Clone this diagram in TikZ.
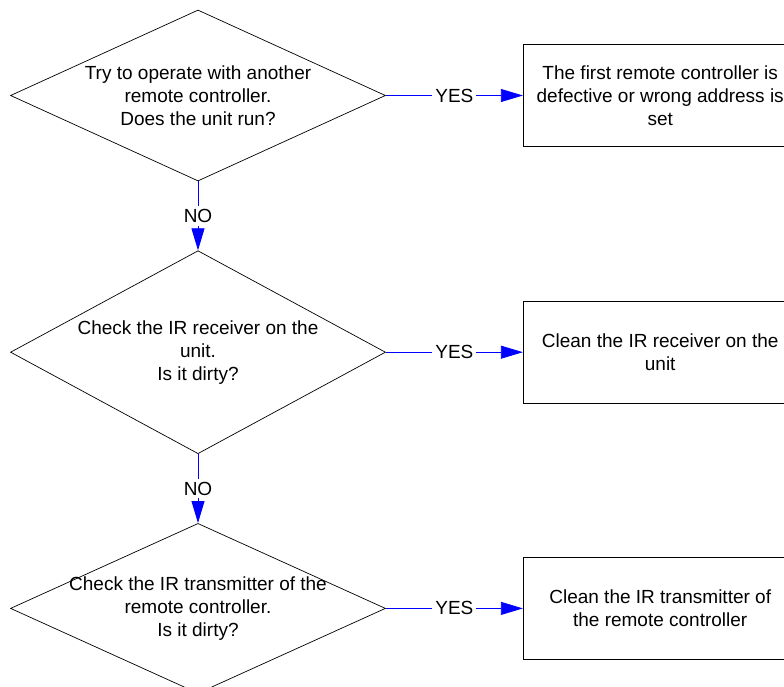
\documentclass[tikz,border=0pt]{standalone}
\usepackage{fontspec}
\setmainfont{Liberation Sans}
\usetikzlibrary{shapes.geometric,arrows.meta,positioning}

\tikzstyle{decision} = [diamond, minimum width=375pt, minimum height=171pt, inner sep=0pt, line width=0.7pt, draw=black]
\tikzstyle{process} = [rectangle, minimum width=274pt, minimum height=102pt, text centered, align=center, line width=0.7pt, draw=black]
\tikzstyle{arrow} = [blue, line width=0.8pt, -{Triangle[length=22pt,width=13pt]}]
\tikzstyle{answer} = [fill=white, inner sep=3pt, text=black]

\begin{document}
\begin{tikzpicture}[x=1pt, y=1pt, font=\fontsize{19}{23}\selectfont]
  \useasboundingbox (0,0) rectangle (784,-687);

  \node (remote) [decision, label={[align=center]center:{Try to operate with another\\remote controller.\\Does the unit run?}}] at (198,-95.5) {};
  \node (receiver) [decision, minimum height=203pt, below=69pt of remote, label={[align=center]center:{Check the IR receiver on the\\unit.\\Is it dirty?}}] {};
  \node (transmitter) [decision, minimum height=170pt, below=69pt of receiver, label={[align=center]center:{Check the IR transmitter of the\\remote controller.\\Is it dirty?}}] {};

  \node (defective) [process, right=137pt of remote] {The first remote controller is\\defective or wrong address is\\set};
  \node (cleanrec) [process, right=137pt of receiver] {Clean the IR receiver on the\\unit};
  \node (cleantrans) [process, right=137pt of transmitter] {Clean the IR transmitter of\\the remote controller};

  \draw [arrow] (remote) -- node[answer] {YES} (defective);
  \draw [arrow] (receiver) -- node[answer] {YES} (cleanrec);
  \draw [arrow] (transmitter) -- node[answer] {YES} (cleantrans);
  \draw [arrow] (remote) -- node[answer] {NO} (receiver);
  \draw [arrow] (receiver) -- node[answer] {NO} (transmitter);
\end{tikzpicture}
\end{document}
